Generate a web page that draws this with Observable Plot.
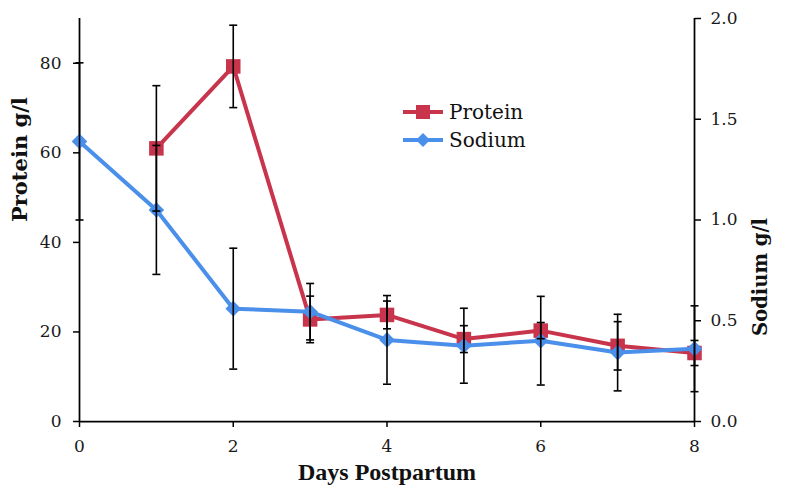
<!DOCTYPE html>
<html><head><meta charset="utf-8">
<script src="https://cdn.jsdelivr.net/npm/d3@7"></script>
<script src="https://cdn.jsdelivr.net/npm/@observablehq/plot@0.6"></script>
<style>
body{margin:0;background:#fff}
#wrap{position:relative;width:786px;height:500px}
#wrap svg [aria-label*="tick label"]{font-family:"DejaVu Serif";font-size:17px}
#legend{position:absolute;left:401px;top:98px;font-family:"DejaVu Serif";font-size:20px;color:#111}
.row{display:flex;align-items:center;height:28px}
.row span{margin-left:4px}
</style></head><body><div id="wrap"></div>
<script>
// ---- data ----
const proteinDays = [1, 2, 3, 4, 5, 6, 7, 8];
const protein     = [61, 79.3, 22.8, 23.8, 18.4, 20.3, 16.9, 15.3];
const proteinErr  = [14, 9.2, 5.2, 3.1, 3.0, 1.8, 5.4, 2.8];
const sodiumDays  = [0, 1, 2, 3, 4, 5, 6, 7, 8];
const sodium      = [1.39, 1.05, 0.56, 0.545, 0.405, 0.376, 0.401, 0.342, 0.361];
const sodiumErr   = [0.39, 0.32, 0.30, 0.14, 0.22, 0.186, 0.22, 0.19, 0.213];
const xTicks = [0, 2, 4, 6, 8];
const proteinTicks = [0, 20, 40, 60, 80];
const sodiumTicks = [0, 0.5, 1.0, 1.5, 2.0];
const proteinMax = 90, sodiumMax = 2.0;
const xLabel = "Days Postpartum", yLabel = "Protein g/l", y2Label = "Sodium g/l";
const seriesNames = ["Protein", "Sodium"];

const k = proteinMax / sodiumMax;
const red = "#C8344B", blue = "#4A8FEA";
const proteinData = proteinDays.map((d, i) => ({day: d, v: protein[i], e: proteinErr[i]}));
const sodiumData = sodiumDays.map((d, i) => ({day: d, v: sodium[i] * k, e: sodiumErr[i] * k}));
const errData = [...proteinData, ...sodiumData];

const cap = {draw(ctx) { ctx.moveTo(-4, 0); ctx.lineTo(4, 0); }};
const diamond = {draw(ctx, size) {
  const r = Math.sqrt(size / Math.PI);
  ctx.moveTo(0, -r); ctx.lineTo(r, 0); ctx.lineTo(0, r); ctx.lineTo(-r, 0); ctx.closePath();
}};

const tickFont = {fontFamily: "DejaVu Serif", fontSize: 17, fill: "#1a1a1a"};

const chart = Plot.plot({
  width: 786, height: 500,
  marginLeft: 79, marginRight: 92, marginTop: 18, marginBottom: 79,
  style: {fontFamily: "'DejaVu Serif'", fontSize: "17px", color: "#111", background: "#fff"},
  x: {domain: [0, 8]},
  y: {domain: [0, proteinMax]},
  marks: [
    Plot.axisY({ticks: proteinTicks, tickSize: 6, tickPadding: 12, label: null, strokeWidth: 1.5, stroke: "#000", ...tickFont}),
    Plot.axisY({anchor: "right", ticks: sodiumTicks.map(t => t * k), tickFormat: d => (d / k).toFixed(1),
      tickSize: 6, tickPadding: 10, label: null, strokeWidth: 1.5, stroke: "#000", ...tickFont}),
    Plot.axisX({ticks: xTicks, tickSize: 6, tickPadding: 12, label: null, strokeWidth: 1.5, stroke: "#000", ...tickFont}),
    Plot.ruleX([0, 8], {stroke: "#000", strokeWidth: 1.75}),
    Plot.ruleY([0], {stroke: "#000", strokeWidth: 1.75}),
    Plot.line(proteinData, {x: "day", y: "v", stroke: red, strokeWidth: 4}),
    Plot.dot(proteinData, {x: "day", y: "v", symbol: "square", r: 8.2, fill: red, stroke: "none"}),
    Plot.line(sodiumData, {x: "day", y: "v", stroke: blue, strokeWidth: 4}),
    Plot.dot(sodiumData, {x: "day", y: "v", symbol: diamond, r: 7.8, fill: blue, stroke: "none"}),
    Plot.ruleX(errData, {x: "day", y1: d => d.v - d.e, y2: d => d.v + d.e, stroke: "#000", strokeWidth: 1.6}),
    Plot.dot(errData, {x: "day", y: d => d.v + d.e, symbol: cap, r: 4, fill: "none", stroke: "#000", strokeWidth: 1.6}),
    Plot.dot(errData, {x: "day", y: d => d.v - d.e, symbol: cap, r: 4, fill: "none", stroke: "#000", strokeWidth: 1.6}),
    Plot.text([xLabel], {frameAnchor: "bottom", dy: 58, fontFamily: "Liberation Serif", fontWeight: "bold", fontSize: 24, fill: "#111"}),
    Plot.text([yLabel], {frameAnchor: "left", dx: -59, dy: 2, rotate: -90, fontFamily: "DejaVu Serif", fontWeight: "bold", fontSize: 21, fill: "#111"}),
    Plot.text([y2Label], {frameAnchor: "right", dx: 66, dy: -2, rotate: -90, fontFamily: "DejaVu Serif", fontWeight: "bold", fontSize: 19.5, fill: "#111"})
  ]
});

const wrap = document.getElementById("wrap");
wrap.appendChild(chart);
const legend = document.createElement("div");
legend.id = "legend";
legend.innerHTML =
  `<div class="row"><svg width="44" height="16"><line x1="2" x2="42" y1="8" y2="8" stroke="${red}" stroke-width="4"/><rect x="15" y="1" width="14" height="14" fill="${red}"/></svg><span>${seriesNames[0]}</span></div>` +
  `<div class="row"><svg width="44" height="16"><line x1="2" x2="42" y1="8" y2="8" stroke="${blue}" stroke-width="4"/><path d="M22,1L29,8L22,15L15,8Z" fill="${blue}"/></svg><span>${seriesNames[1]}</span></div>`;
wrap.appendChild(legend);
</script>
</body></html>
